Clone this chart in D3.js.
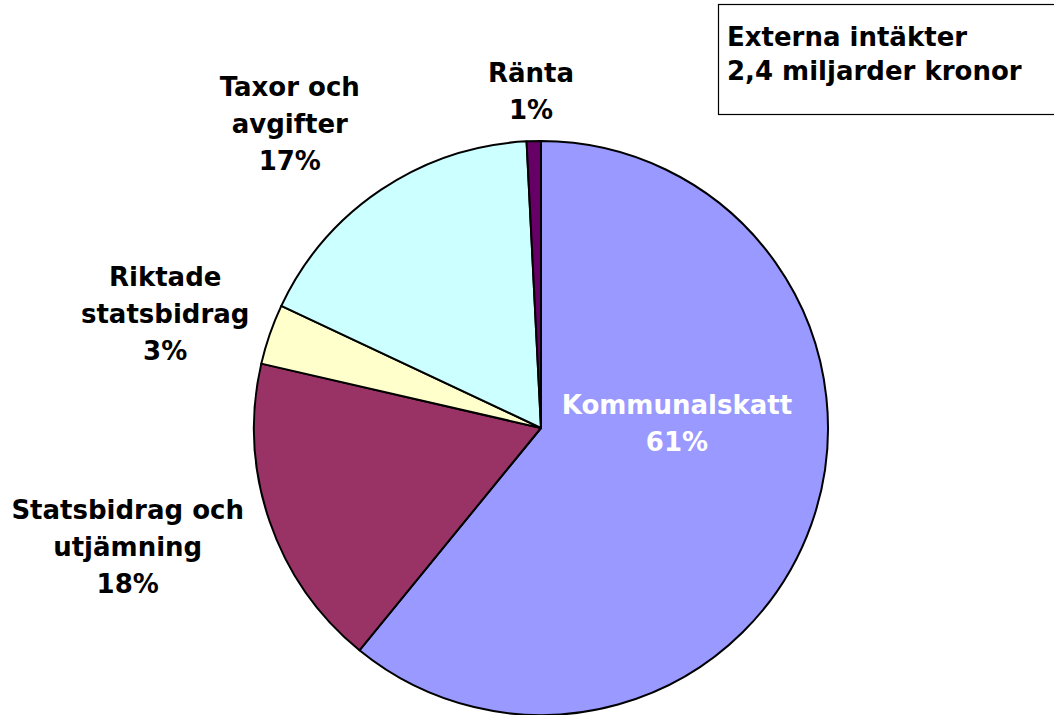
<!DOCTYPE html>
<html>
<head>
<meta charset="utf-8">
<title>Externa intäkter</title>
<script src="https://d3js.org/d3.v7.min.js"></script>
<style>
  body { margin: 0; background: #fff; }
  text { font-family: "DejaVu Sans", sans-serif; font-weight: bold; font-size: 26px; }
  .inside { fill: #fff; }
</style>
</head>
<body>
<script>
// data
var categories = ["Kommunalskatt", "Statsbidrag och utjämning", "Riktade statsbidrag", "Taxor och avgifter", "Ränta"];
var labelLines = [["Kommunalskatt"], ["Statsbidrag och", "utjämning"], ["Riktade", "statsbidrag"], ["Taxor och", "avgifter"], ["Ränta"]];
var shares = [60.9, 17.7, 3.4, 17.2, 0.8];
var colors = ["#9999ff", "#993366", "#ffffcc", "#ccffff", "#660066"];
var titleLines = ["Externa intäkter", "2,4 miljarder kronor"];

// label placement (angle in degrees clockwise from top, distance from centre)
var labelAngle = [88, 254, 287, 320.5, 358.3];
var labelDist = [136, 430, 393, 395, 337];

var width = 1054, height = 715;
var cx = 541, cy = 428, r = 287;
var lineH = 37;

var svg = d3.select("body").append("svg")
  .attr("width", width).attr("height", height);

var rows = categories.map(function(c, i) { return { name: c, value: shares[i], i: i }; });
var pie = d3.pie().sort(null).value(function(d) { return d.value; });
var arcs = pie(rows);
var arc = d3.arc().innerRadius(0).outerRadius(r);

var g = svg.append("g").attr("transform", "translate(" + cx + "," + cy + ")");
g.selectAll("path").data(arcs).enter().append("path")
  .attr("d", arc)
  .attr("fill", function(d) { return colors[d.data.i]; })
  .attr("stroke", "#000")
  .attr("stroke-width", 2)
  .attr("stroke-linejoin", "round");

var pct = d3.format(".0f");
var labels = g.selectAll("g.lab").data(arcs).enter().append("g")
  .attr("class", "lab")
  .attr("transform", function(d) {
    var a = labelAngle[d.data.i] * Math.PI / 180, dist = labelDist[d.data.i];
    return "translate(" + (dist * Math.sin(a)) + "," + (-dist * Math.cos(a)) + ")";
  });
labels.each(function(d) {
  var lines = labelLines[d.data.i].concat([pct(d.data.value) + "%"]);
  var n = lines.length;
  var t = d3.select(this).append("text")
    .attr("text-anchor", "middle")
    .classed("inside", d.data.i === 0);
  lines.forEach(function(s, k) {
    t.append("tspan").attr("x", 0)
      .attr("y", (k - (n - 1) / 2) * lineH + 9.5)
      .text(s);
  });
});

// title box
svg.append("rect")
  .attr("x", 718.5).attr("y", 4.5).attr("width", 345).attr("height", 110)
  .attr("fill", "#fff").attr("stroke", "#000").attr("stroke-width", 1.2);
svg.append("g").selectAll("text").data(titleLines).enter().append("text")
  .attr("x", 727).attr("y", function(d, i) { return 46 + i * 34; })
  .text(function(d) { return d; });
</script>
</body>
</html>
